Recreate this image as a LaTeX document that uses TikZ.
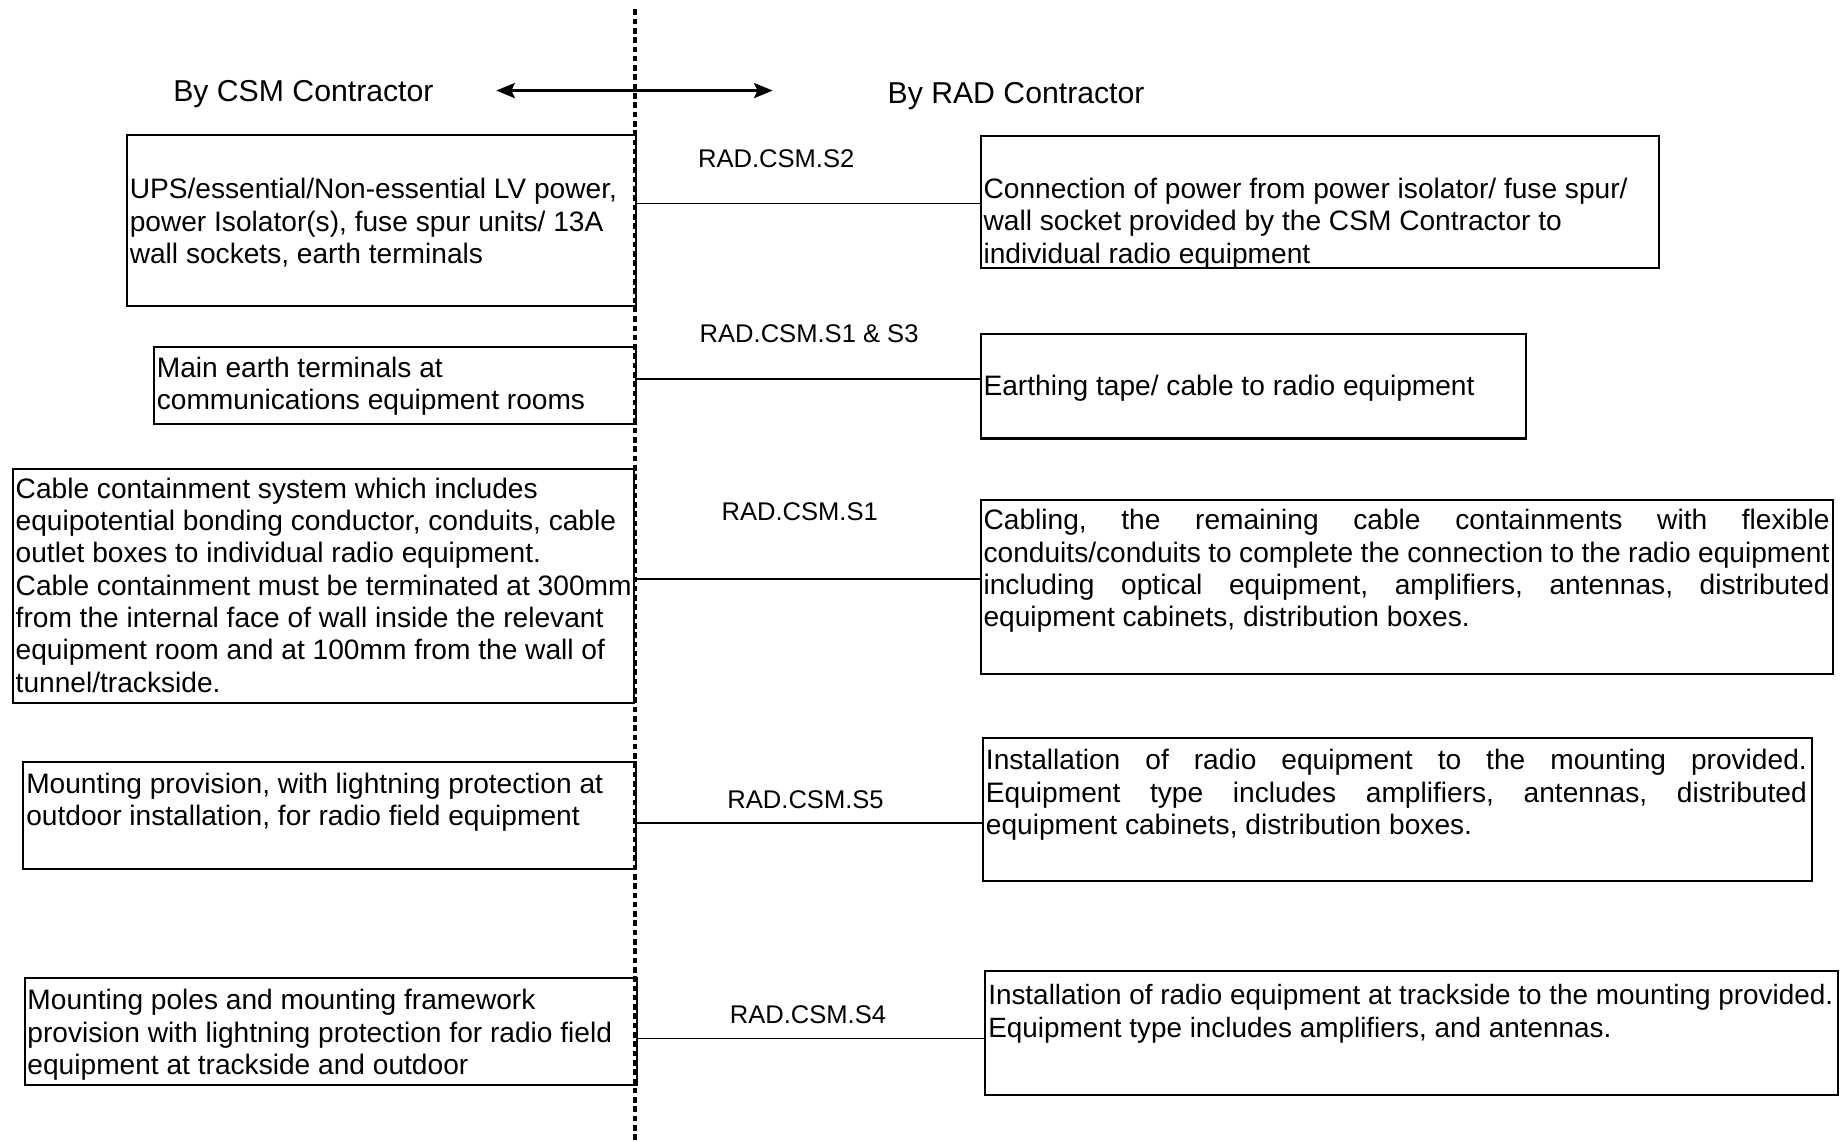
\documentclass[tikz,border=0pt]{standalone}
\usepackage{fontspec}
\setmainfont{Liberation Sans}
\usetikzlibrary{positioning,arrows.meta}
\hyphenpenalty=10000
\frenchspacing

\begin{document}
\begin{tikzpicture}[x=0.506pt, y=-0.506pt,
  box/.style={draw, line width=0.9pt, inner sep=0pt, anchor=north west},
  txt/.style={inner sep=0pt, font=\fontsize{12.1}{13.9}\selectfont},
  tag/.style={inner sep=0pt, font=\fontsize{11}{13}\selectfont},
  head/.style={inner sep=0pt, font=\fontsize{13}{15}\selectfont},
  link/.style={line width=0.8pt}]
\useasboundingbox (0,0) rectangle (1568,971);

\node[head] (csm) at (258,80) {By CSM Contractor};
\node[head] (rad) at (864,82) {By RAD Contractor};
\coordinate (aw) at (422,77);
\coordinate (ae) at (657,77);
\draw[line width=1.1pt, {Stealth[length=8pt,width=6.5pt,inset=1.5pt]}-{Stealth[length=8pt,width=6.5pt,inset=1.5pt]}] (aw) -- (ae);

% CSM side
\node[box, minimum width=219.1pt, minimum height=73.4pt] (l1) at (107,114) {};
\node[box, minimum width=207.5pt, minimum height=33.4pt] (l2) at (130,294) {};
\node[box, minimum width=267.2pt, minimum height=100.7pt] (l3) at (10,398) {};
\node[box, minimum width=263.6pt, minimum height=46pt] (l4) at (19,647) {};
\node[box, minimum width=263.6pt, minimum height=46pt] (l5) at (20,831) {};

\node[txt, align=left, below right=18.9pt and 1.5pt of l1.north west] (l1t) {UPS/essential/Non-essential LV power,\\power Isolator(s), fuse spur units/ 13A\\wall sockets, earth terminals};
\node[txt, align=left, below right=4.5pt and 1.5pt of l2.north west] (l2t) {Main earth terminals at\\communications equipment rooms};
\node[txt, align=left, below right=4pt and 1.5pt of l3.north west] (l3t) {Cable containment system which includes\\equipotential bonding conductor, conduits, cable\\outlet boxes to individual radio equipment.\\Cable containment must be terminated at 300mm\\from the internal face of wall inside the relevant\\equipment room and at 100mm from the wall of\\tunnel/trackside.};
\node[txt, align=left, below right=5pt and 1.5pt of l4.north west] (l4t) {Mounting provision, with lightning protection at\\outdoor installation, for radio field equipment};
\node[txt, align=left, below right=5pt and 1.5pt of l5.north west] (l5t) {Mounting poles and mounting framework\\provision with lightning protection for radio field\\equipment at trackside and outdoor};

% RAD side
\node[box, minimum width=292pt, minimum height=56.7pt] (r1) at (833,115) {};
\node[box, minimum width=234.8pt, minimum height=45pt] (r2) at (833,283) {};
\node[box, minimum width=366.9pt, minimum height=74.9pt] (r3) at (833,424) {};
\node[box, minimum width=356.7pt, minimum height=61.2pt] (r4) at (835,627) {};
\node[box, minimum width=366.9pt, minimum height=53.1pt] (r5) at (837,825) {};

\node[txt, align=left, below right=18.2pt and 1.5pt of r1.north west] (r1t) {Connection of power from power isolator/ fuse spur/\\wall socket provided by the CSM Contractor to\\individual radio equipment};
\node[txt, align=left, below right=18.2pt and 1.5pt of r2.north west] (r2t) {Earthing tape/ cable to radio equipment};
\node[txt, text width=364pt, align=justify, below right=4.5pt and 1.5pt of r3.north west] (r3t) {Cabling, the remaining cable containments with flexible\linebreak conduits/conduits to complete the connection to the radio equipment\linebreak including optical equipment, amplifiers, antennas, distributed\linebreak equipment cabinets, distribution boxes.};
\node[txt, text width=353.2pt, align=justify, below right=5pt and 1.5pt of r4.north west] (r4t) {Installation of radio equipment to the mounting provided.\linebreak Equipment type includes amplifiers, antennas, distributed\linebreak equipment cabinets, distribution boxes.};
\node[txt, font=\fontsize{12}{13.9}\selectfont, align=left, below right=6pt and 1.5pt of r5.north west] (r5t) {Installation of radio equipment at trackside to the mounting provided.\\Equipment type includes amplifiers, and antennas.};

% interfaces
\coordinate (c1) at (0,173);
\coordinate (c2) at (0,322);
\coordinate (c3) at (0,492);
\coordinate (c4) at (0,700);
\coordinate (c5) at (0,883);
\draw[link] (l1.east |- c1) -- (r1.west |- c1);
\draw[link] (l2.east |- c2) -- (r2.west |- c2);
\draw[link] (l3.east |- c3) -- (r3.west |- c3);
\draw[link] (l4.east |- c4) -- (r4.west |- c4);
\draw[link] (l5.east |- c5) -- (r5.west |- c5);

\node[tag] (s2) at (660,135) {RAD.CSM.S2};
\node[tag] (s13) at (688,284) {RAD.CSM.S1 \& S3};
\node[tag] (s1) at (680,435) {RAD.CSM.S1};
\node[tag] (s5) at (685,680) {RAD.CSM.S5};
\node[tag] (s4) at (687,863) {RAD.CSM.S4};

\coordinate (splittop) at (540,8);
\coordinate (splitbot) at (540,971);
\draw[line width=1.7pt, dash pattern=on 2.4pt off 1.6pt] (splittop) -- (splitbot);
\end{tikzpicture}
\end{document}
